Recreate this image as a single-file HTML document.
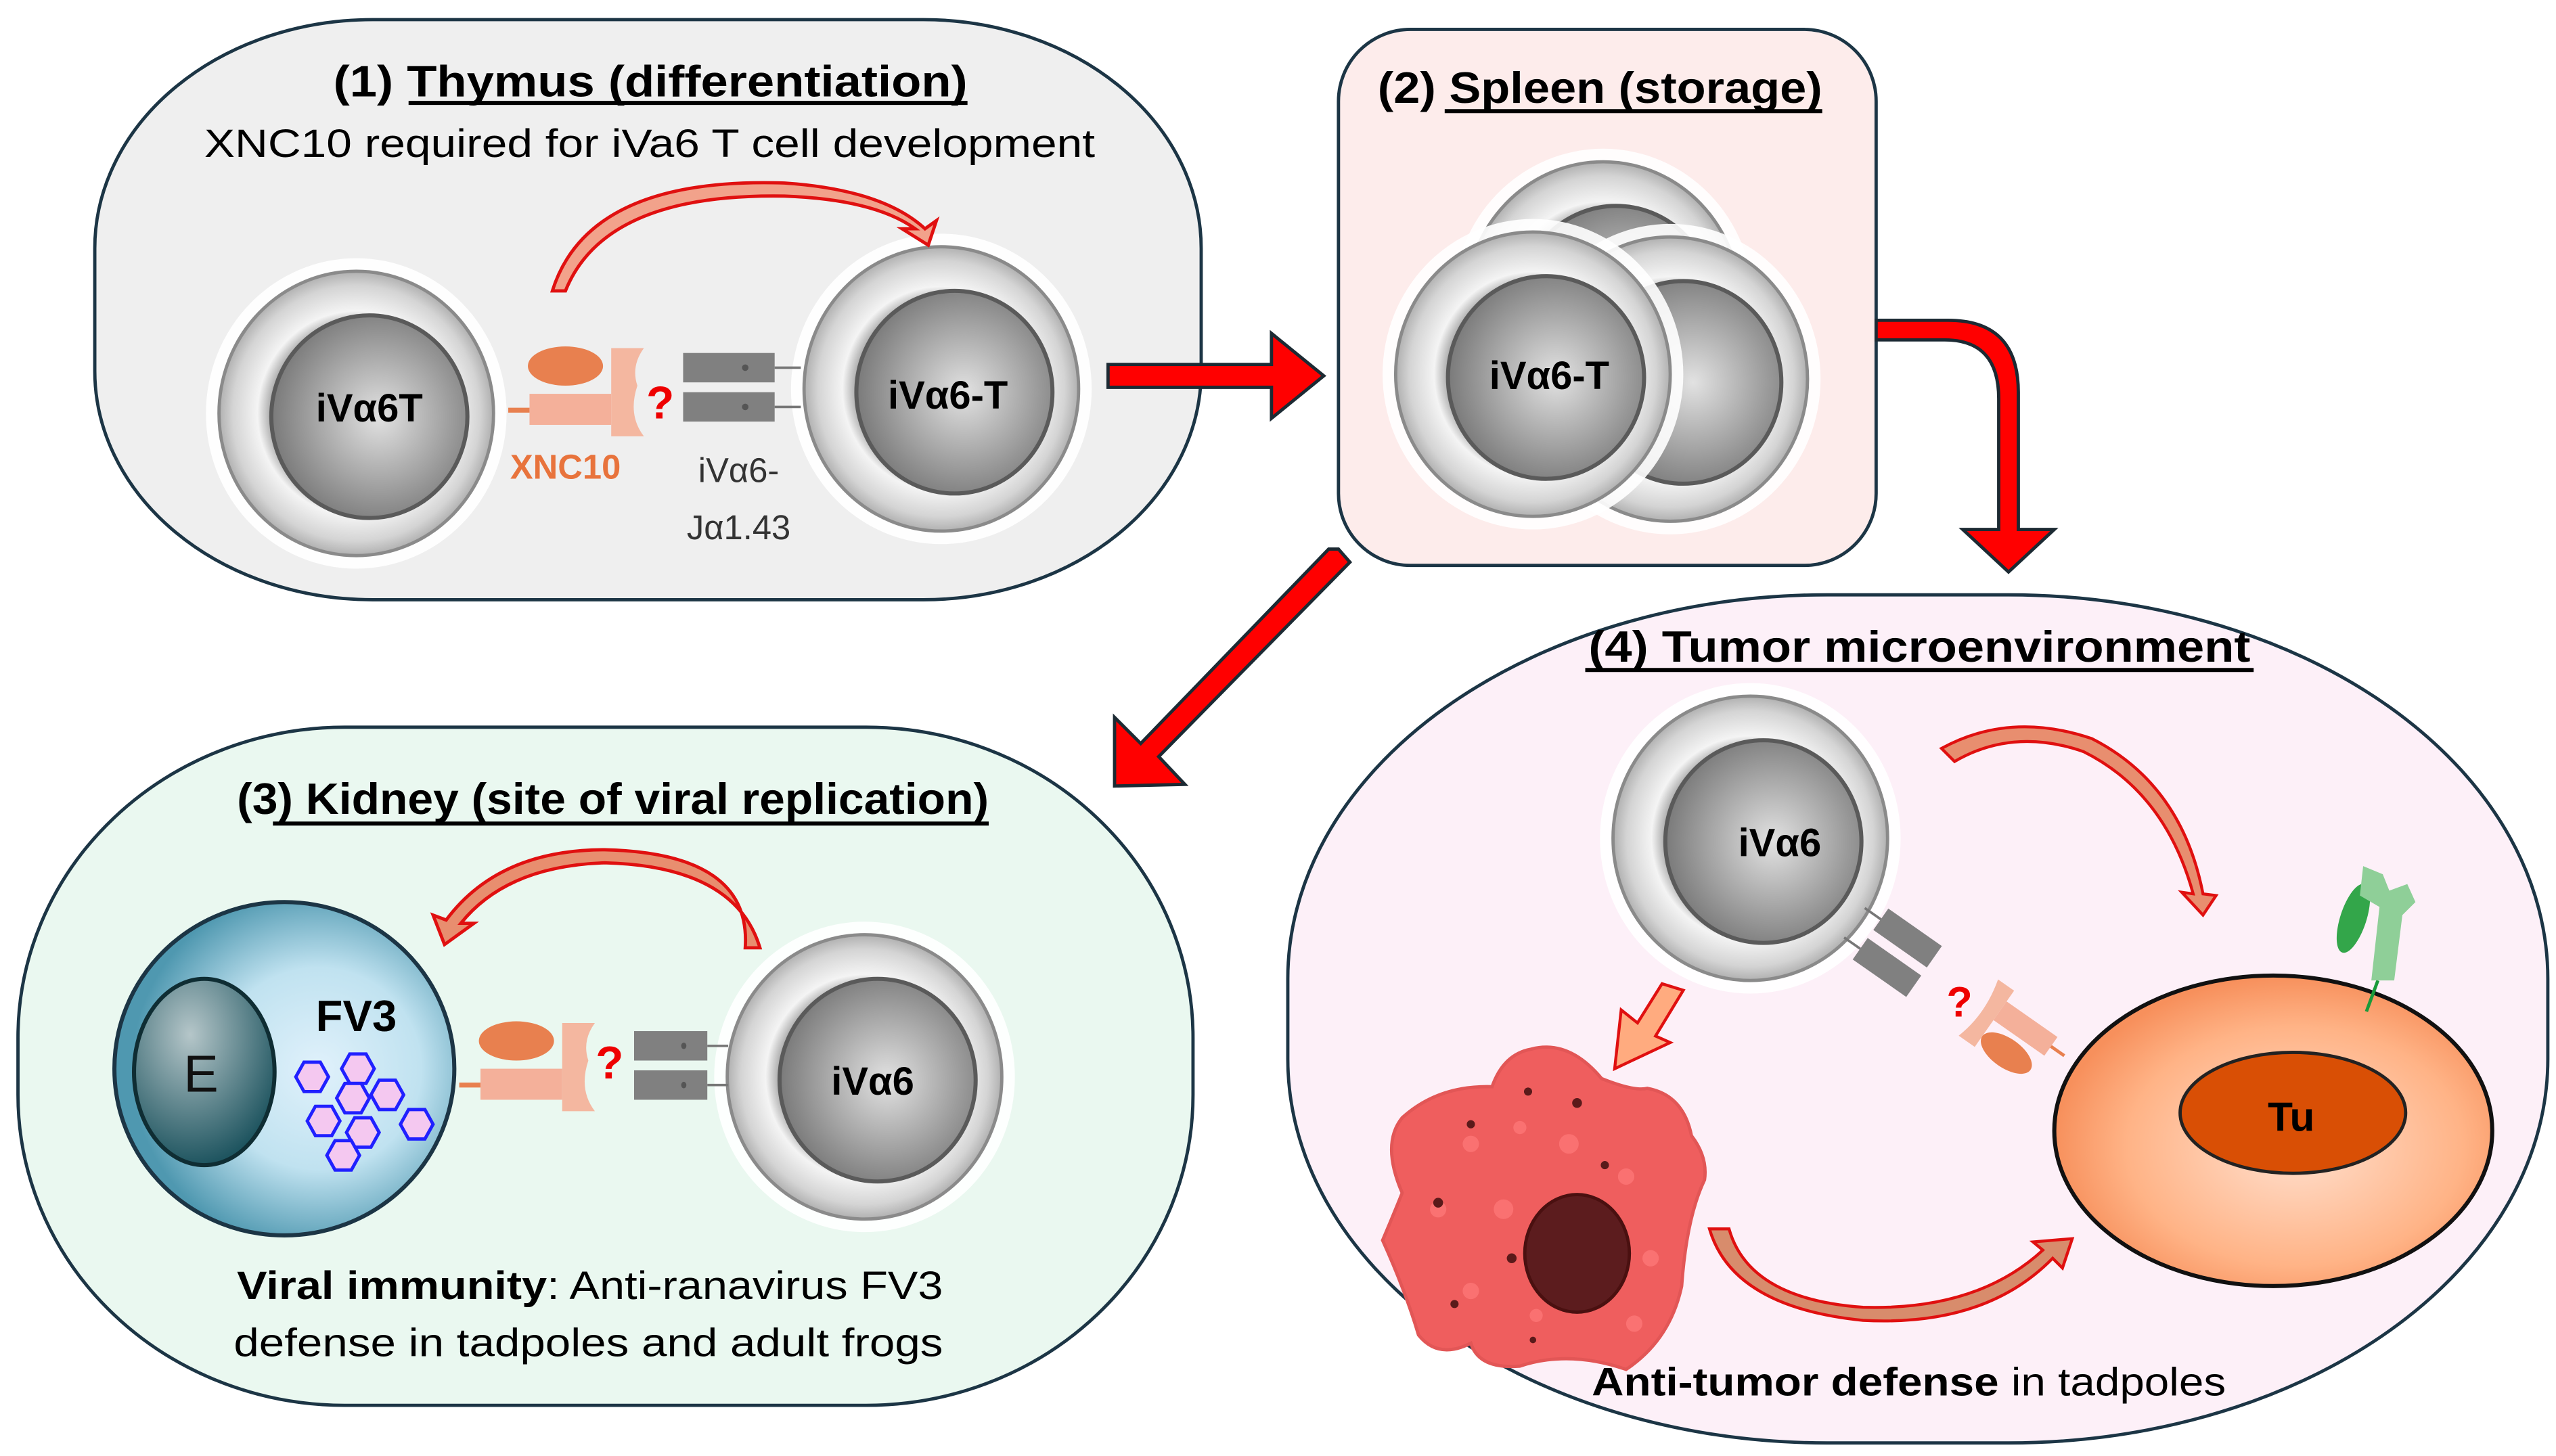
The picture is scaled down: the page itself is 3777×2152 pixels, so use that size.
<!DOCTYPE html>
<html><head><meta charset="utf-8"><style>
html,body{margin:0;padding:0;background:#fff}
svg{display:block}
text{font-family:"Liberation Sans",sans-serif}
</style></head><body>
<svg width="3777" height="2152" viewBox="0 0 1564 891" preserveAspectRatio="none" xmlns="http://www.w3.org/2000/svg">
<defs>
<radialGradient id="ring" cx="50%" cy="50%" r="50%">
<stop offset="0.6" stop-color="#9a9a9a"/><stop offset="0.72" stop-color="#f4f4f4"/><stop offset="0.9" stop-color="#d4d4d4"/><stop offset="1" stop-color="#b0b0b0"/>
</radialGradient>
<radialGradient id="nuc" cx="55%" cy="50%" r="55%">
<stop offset="0" stop-color="#e2e2e2"/><stop offset="0.6" stop-color="#a4a4a4"/><stop offset="1" stop-color="#7a7a7a"/>
</radialGradient>
<radialGradient id="blue" cx="60%" cy="50%" r="55%">
<stop offset="0" stop-color="#e0f1fb"/><stop offset="0.55" stop-color="#c0e2f0"/><stop offset="1" stop-color="#4f98b0"/>
</radialGradient>
<radialGradient id="eg" cx="40%" cy="30%" r="70%">
<stop offset="0" stop-color="#b5c6c9"/><stop offset="1" stop-color="#1f5560"/>
</radialGradient>
<radialGradient id="tu" cx="55%" cy="55%" r="55%">
<stop offset="0" stop-color="#ffe0cf"/><stop offset="0.7" stop-color="#ffb386"/><stop offset="1" stop-color="#f7905c"/>
</radialGradient>
<g id="cell">
<ellipse cx="0" cy="0" rx="92" ry="95" fill="#fff" opacity="0.9"/>
<ellipse cx="0" cy="0" rx="84" ry="87" fill="url(#ring)" stroke="#8a8a8a" stroke-width="2"/>
<ellipse cx="8" cy="2" rx="60" ry="62" fill="url(#nuc)" stroke="#5a5a5a" stroke-width="2.5"/>
</g>
<g id="xnc">
<line x1="-13" y1="27" x2="0" y2="27" stroke="#e8804f" stroke-width="3"/>
<rect x="0" y="17" width="50" height="19" fill="#f4b09a"/>
<ellipse cx="22" cy="0" rx="23" ry="12" fill="#e8804f"/>
<path d="M50 -11 L70 -11 Q62 0 66 12 Q60 30 70 43 L50 43 Z" fill="#f4b7a0"/>
</g>
<g id="tcr">
<rect x="0" y="0" width="56" height="18" fill="#808080"/>
<rect x="0" y="24" width="56" height="18" fill="#808080"/>
<circle cx="38" cy="9" r="2" fill="#555"/><circle cx="38" cy="33" r="2" fill="#555"/>
<line x1="56" y1="9" x2="72" y2="9" stroke="#777" stroke-width="1.5"/>
<line x1="56" y1="33" x2="72" y2="33" stroke="#777" stroke-width="1.5"/>
</g>
</defs>

<!-- Box 1 -->
<rect x="58" y="12" width="677" height="355" rx="170" ry="140" fill="#efefef" stroke="#1c3545" stroke-width="2"/>
<text x="204" y="59" font-size="27" font-weight="bold" textLength="388" lengthAdjust="spacingAndGlyphs">(1) Thymus (differentiation)</text>
<line x1="250" y1="63" x2="592" y2="63" stroke="#000" stroke-width="2.5"/>
<text x="125" y="96" font-size="24" textLength="545" lengthAdjust="spacingAndGlyphs">XNC10 required for  iVa6 T cell development</text>
<use href="#cell" transform="translate(218,253)"/>
<use href="#cell" transform="translate(576,238)"/>
<text x="226" y="258" font-size="24" font-weight="bold" text-anchor="middle">iVα6T</text>
<text x="580" y="250" font-size="24" font-weight="bold" text-anchor="middle">iVα6-T</text>
<use href="#xnc" transform="translate(324,224)"/>
<text x="404" y="256" font-size="28" font-weight="bold" fill="#e00" text-anchor="middle">?</text>
<use href="#tcr" transform="translate(418,216)"/>
<text x="346" y="293" font-size="21" font-weight="bold" fill="#e8733c" text-anchor="middle">XNC10</text>
<text x="452" y="295" font-size="21" fill="#333" text-anchor="middle">iVα6-</text>
<text x="452" y="330" font-size="21" fill="#333" text-anchor="middle">Jα1.43</text>
<path d="M338 178 Q360 108 480 112 Q540 116 566 140 L573 135 L568 150 L552 140 L560 140 Q535 122 480 120 Q370 118 346 178 Z" fill="#f2a28b" stroke="#e01010" stroke-width="2"/>

<!-- arrow 1->2 -->
<path d="M678 223 L778 223 L778 204 L810 230 L778 256 L778 237 L678 237 Z" fill="#f00" stroke="#1c2a33" stroke-width="2"/>

<!-- Box 2 -->
<rect x="819" y="18" width="329" height="328" rx="44" ry="44" fill="#fdeceb" stroke="#1c3545" stroke-width="2"/>
<text x="843" y="63" font-size="27" font-weight="bold" textLength="272" lengthAdjust="spacingAndGlyphs">(2) Spleen (storage)</text>
<line x1="884" y1="68" x2="1115" y2="68" stroke="#000" stroke-width="2.5"/>
<use href="#cell" transform="translate(981,186)"/>
<use href="#cell" transform="translate(1022,232)"/>
<use href="#cell" transform="translate(938,229)"/>
<text x="948" y="238" font-size="24" font-weight="bold" text-anchor="middle">iVα6-T</text>

<!-- bent arrow 2->4 -->
<path d="M1148 196 L1192 196 Q1235 196 1235 240 L1235 324 L1257 324 L1229 350 L1201 324 L1223 324 L1223 244 Q1223 208 1190 208 L1148 208 Z" fill="#f00" stroke="#1c2a33" stroke-width="2"/>
<!-- diagonal arrow 2->3 -->
<path d="M819 336 L826 344 L709 463 L725 480 L682 481 L682 439 L698 455 L813 336 Z" fill="#f00" stroke="#1c2a33" stroke-width="2"/>

<!-- Box 3 -->
<rect x="11" y="445" width="719" height="415" rx="200" ry="190" fill="#eaf8f0" stroke="#1c3545" stroke-width="2"/>
<text x="145" y="498" font-size="27" font-weight="bold" textLength="460" lengthAdjust="spacingAndGlyphs">(3) Kidney (site of viral replication)</text>
<line x1="167" y1="504" x2="605" y2="504" stroke="#000" stroke-width="2.5"/>
<ellipse cx="174" cy="654" rx="104" ry="102" fill="url(#blue)" stroke="#1c3545" stroke-width="2.5"/>
<ellipse cx="125" cy="656" rx="43" ry="57" fill="url(#eg)" stroke="#0f2d33" stroke-width="2.5"/>
<text x="123" y="668" font-size="32" text-anchor="middle" fill="#111">E</text>
<text x="218" y="631" font-size="27" font-weight="bold" text-anchor="middle">FV3</text>
<g fill="#f4c8f0" stroke="#2020ff" stroke-width="2">
<polygon points="201,659 196,668 186,668 181,659 186,650 196,650"/>
<polygon points="229,654 224,663 214,663 209,654 214,645 224,645"/>
<polygon points="226,672 221,681 211,681 206,672 211,663 221,663"/>
<polygon points="247,670 242,679 232,679 227,670 232,661 242,661"/>
<polygon points="208,686 203,695 193,695 188,686 193,677 203,677"/>
<polygon points="232,693 227,702 217,702 212,693 217,684 227,684"/>
<polygon points="265,688 260,697 250,697 245,688 250,679 260,679"/>
<polygon points="220,707 215,716 205,716 200,707 205,698 215,698"/>
</g>
<use href="#cell" transform="translate(529,659)"/>
<text x="534" y="670" font-size="24" font-weight="bold" text-anchor="middle">iVα6</text>
<use href="#xnc" transform="translate(294,637)"/>
<text x="373" y="660" font-size="28" font-weight="bold" fill="#e00" text-anchor="middle">?</text>
<g transform="translate(388,631) scale(0.8,1)"><use href="#tcr"/></g>
<path d="M465 580 Q450 530 370 528 Q310 530 282 565 L290 565 L272 578 L265 560 L273 563 Q305 520 370 520 Q460 522 456 580 Z" fill="#e88e6f" stroke="#e01010" stroke-width="2"/>
<text x="145" y="795" font-size="24" textLength="432" lengthAdjust="spacingAndGlyphs"><tspan font-weight="bold">Viral immunity</tspan>: Anti-ranavirus FV3</text>
<text x="143" y="830" font-size="24" textLength="434" lengthAdjust="spacingAndGlyphs">defense in tadpoles and adult frogs</text>

<!-- Box 4 -->
<rect x="788" y="364" width="771" height="519" rx="330" ry="235" fill="#fdf0f8" stroke="#1c3545" stroke-width="2"/>
<text x="972" y="405" font-size="27" font-weight="bold" textLength="405" lengthAdjust="spacingAndGlyphs">(4) Tumor microenvironment</text>
<line x1="970" y1="410" x2="1379" y2="410" stroke="#000" stroke-width="2.5"/>
<use href="#cell" transform="translate(1071,513)"/>
<text x="1089" y="524" font-size="24" font-weight="bold" text-anchor="middle">iVα6</text>
<!-- TCR rotated -->
<g transform="translate(1162,585) rotate(35)">
<rect x="-22" y="-20" width="40" height="16" fill="#808080"/>
<rect x="-22" y="2" width="40" height="16" fill="#808080"/>
<line x1="-22" y1="-12" x2="-34" y2="-12" stroke="#777" stroke-width="1.5"/>
<line x1="-22" y1="10" x2="-34" y2="10" stroke="#777" stroke-width="1.5"/>
</g>
<text x="1199" y="622" font-size="26" font-weight="bold" fill="#e00" text-anchor="middle">?</text>
<!-- XNC10 rotated -->
<g transform="translate(1228,630) rotate(35)">
<path d="M-22 -22 L-10 -22 L-10 20 L-22 20 Q-16 0 -22 -22 Z" fill="#f4b7a0"/>
<rect x="-10" y="-14" width="38" height="14" fill="#f4b09a"/>
<ellipse cx="8" cy="12" rx="18" ry="9" fill="#e8804f"/>
<line x1="28" y1="-7" x2="38" y2="-7" stroke="#e8804f" stroke-width="2"/>
</g>
<!-- Tu cell -->
<ellipse cx="1391" cy="692" rx="134" ry="95" fill="url(#tu)" stroke="#111" stroke-width="2.5"/>
<ellipse cx="1403" cy="681" rx="69" ry="37" fill="#d94f05" stroke="#222" stroke-width="2"/>
<text x="1402" y="692" font-size="25" font-weight="bold" text-anchor="middle">Tu</text>
<line x1="1455" y1="600" x2="1448" y2="619" stroke="#1a9a3a" stroke-width="2"/>
<ellipse cx="1440" cy="562" rx="8" ry="22" transform="rotate(18 1440 562)" fill="#33a64a"/>
<path d="M1451 600 L1456 555 L1444 548 L1446 530 L1458 535 L1462 545 L1473 541 L1478 552 L1470 560 L1465 600 Z" fill="#8fcf98"/>
<!-- macrophage -->
<path d="M937 642 Q960 636 980 660 Q1000 668 1008 666 Q1030 670 1035 695 Q1045 708 1043 722 Q1032 745 1029 787 Q1022 820 995 838 Q960 826 930 836 Q905 838 900 822 Q880 832 868 817 Q860 790 846 759 Q852 745 858 730 Q845 700 858 684 Q880 664 913 665 Q920 645 937 642 Z" fill="#ef5e5e" stroke="#e25656" stroke-width="2"/>
<g fill="#ff7a7a" opacity="0.7"><circle cx="900" cy="700" r="5"/><circle cx="930" cy="690" r="4"/><circle cx="960" cy="700" r="6"/><circle cx="995" cy="720" r="5"/><circle cx="880" cy="740" r="5"/><circle cx="920" cy="740" r="6"/><circle cx="1010" cy="770" r="5"/><circle cx="900" cy="790" r="5"/><circle cx="940" cy="805" r="4"/><circle cx="1000" cy="810" r="5"/></g>
<g fill="#5a1a1a"><circle cx="935" cy="668" r="2.5"/><circle cx="965" cy="675" r="3"/><circle cx="900" cy="688" r="2.5"/><circle cx="880" cy="736" r="3"/><circle cx="925" cy="770" r="3"/><circle cx="890" cy="798" r="2.5"/><circle cx="982" cy="713" r="2.5"/><circle cx="938" cy="820" r="2"/></g>
<ellipse cx="965" cy="767" rx="32" ry="36" fill="#5c1c1e" stroke="#4a1010" stroke-width="2"/>
<!-- arrows in box 4 -->
<path d="M1017 602 L1030 606 L1013 634 L1022 638 L988 654 L992 618 L1002 626 Z" fill="#ffab7f" stroke="#e01010" stroke-width="1.8"/>
<path d="M1188 458 Q1230 435 1280 452 Q1335 480 1348 547 L1356 548 L1348 560 L1335 546 L1342 547 Q1325 485 1275 460 Q1232 445 1196 466 Z" fill="#e88e6f" stroke="#e01010" stroke-width="1.8"/>
<path d="M1046 752 L1058 752 Q1070 795 1140 800 Q1210 802 1250 765 L1244 760 L1268 758 L1262 776 L1256 770 Q1215 812 1140 808 Q1060 800 1046 752 Z" fill="#d88c6c" stroke="#e01010" stroke-width="1.8"/>
<text x="974" y="854" font-size="24" textLength="388" lengthAdjust="spacingAndGlyphs"><tspan font-weight="bold">Anti-tumor defense</tspan> in tadpoles</text>
</svg>
</body></html>
